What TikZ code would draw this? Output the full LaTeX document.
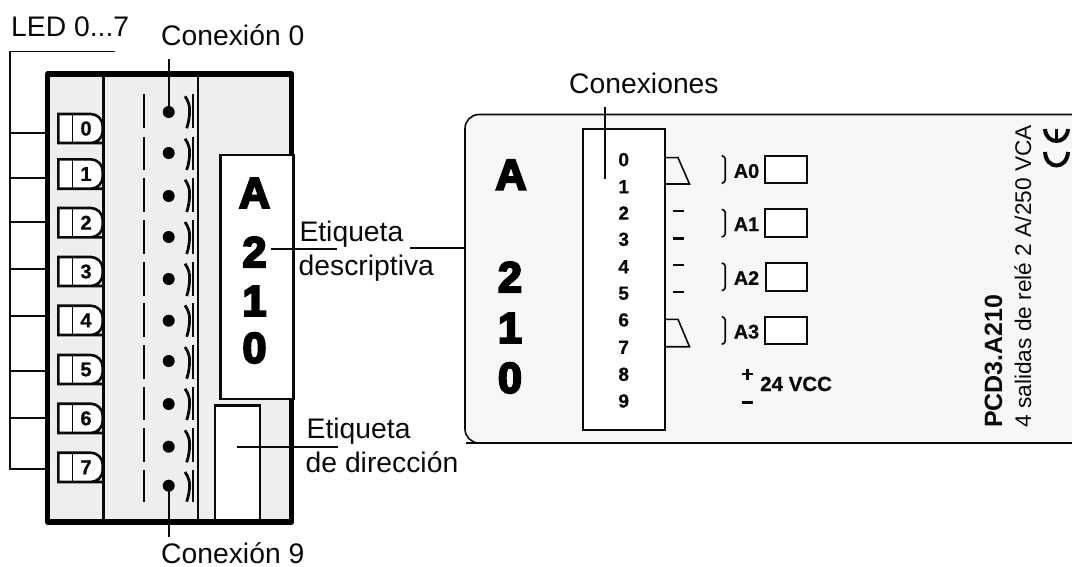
\documentclass[tikz,border=0pt]{standalone}
\usepackage{fontspec}
\setmainfont{Liberation Sans}
\newfontfamily\heavyfont[BoldFeatures={FakeBold=5}]{Liberation Sans}
\newfontfamily\boldishfont[BoldFeatures={FakeBold=0.8}]{Liberation Sans}
\definecolor{framegray}{HTML}{EEEEEE}
\definecolor{cardgray}{HTML}{F7F7F7}
\definecolor{ink}{HTML}{0A0A0A}
\tikzset{
  lbl/.style={anchor=base west,inner sep=0pt,text=ink,font=\fontsize{28.3}{28}\selectfont},
  ledtxt/.style={anchor=center,inner sep=0pt,text=ink,font=\fontsize{20}{20}\selectfont\boldishfont\bfseries},
  pintxt/.style={anchor=center,inner sep=0pt,text=ink,font=\fontsize{19}{19}\selectfont\boldishfont\bfseries},
  anatxt/.style={anchor=center,inner sep=0pt,text=ink,font=\fontsize{19.8}{20}\selectfont\boldishfont\bfseries},
  heavy/.style={anchor=center,inner sep=0pt,text=black,font=\fontsize{43}{43}\selectfont\heavyfont\bfseries},
  thinl/.style={draw=ink,line width=1.6pt},
  midl/.style={draw=ink,line width=2.6pt},
  outbox/.style={draw=ink,line width=2pt,fill=white}
}
\begin{document}
\begin{tikzpicture}[x=1pt,y=-1pt]
\useasboundingbox (0,0) rectangle (1072,566);
% ---------- module frame
\fill[framegray] (47.5,74) rectangle (291.7,522);
\draw[midl] (103.5,74) -- (103.5,522);
\draw[midl] (197.8,74) -- (197.8,522);
% LEDs
\foreach \t/\b/\n in {114/143/0,159.3/188.7/1,208/237.3/2,257/286/3,305.7/335/4,355/384/5,403.7/433/6,452.7/482/7}{
  \draw[midl,fill=white] (58.3,\t) -- (90,\t) [rounded corners=12pt] -- (102.7,\t) -- (102.7,\b) -- (90,\b) [sharp corners] -- (58.3,\b) -- cycle;
  \draw[thinl] (72.3,\t) -- (72.3,\b);
  \node[ledtxt] (led\n) at (86,{(\t+\b)/2}) {\n};
}
% contacts
\foreach \t/\b/\c/\n in {94.3/128.3/112/0,136.7/170/153/1,177.7/212/196/2,220/254/237/3,261.7/296/279/4,303.3/336.7/320.7/5,345/378.7/361/6,386.7/420/404/7,428.3/462.3/446.7/8,470/501.7/485.7/9}{
  \draw[midl] (144,\t) -- (144,\b);
  \fill[black] (168.7,\c) circle (6);
  \draw[line width=2.2pt,draw=ink] (193.3,\t) -- (193.3,\b);
  \draw[line width=2.8pt,draw=ink] (185,{\t+2}) .. controls (188.5,{\t+7}) and (190,{\t+12}) .. (189.5,{(\t+\b)/2}) .. controls (189.5,{\b-12}) and (189,{\b-7}) .. (186.7,\b);
}
\coordinate (dot0) at (168.7,112);
\coordinate (dot9) at (168.7,485.7);
% address label
\draw[midl,fill=white] (215,405.3) rectangle (260,522);
% frame
\draw[draw=black,line width=5.2pt,line join=round] (47.5,74) rectangle (291.7,522);
% description label
\draw[midl,fill=white] (220.5,155) rectangle (293.7,399);
\node[heavy] (la) at (254.5,193) {A};
\node[heavy] (l2) at (254.5,252) {2};
\node[heavy] (l1) at (254.5,301) {1};
\node[heavy] (l0) at (254.5,348) {0};
% LED bus
\coordinate (busT) at (115,51.5);
\coordinate (busC) at (10,51.5);
\coordinate (busB) at (10,469);
\coordinate (busE) at (50,469);
\draw[thinl] (busT) -- (busC) -- (busB) -- (busE);
\foreach \y in {133,178,222,269,315.7,370.7,417.7}{
  \draw[thinl] (10,\y) -- (50,\y);
}
\node[lbl] (ledlabel) at (11,36) {LED 0...7};
\node[lbl] (con0) at (161,45) {Conexión 0};
\node[lbl] (con9) at (161,563.5) {Conexión 9};
\coordinate (con0e) at (168.7,59);
\coordinate (con9e) at (168.7,536.7);
\draw[thinl] (con0e) -- (dot0);
\draw[thinl] (dot9) -- (con9e);
% labels middle
\node[lbl] (et1a) at (299.3,241) {Etiqueta};
\node[lbl] (et1b) at (298.5,275) {descriptiva};
\node[lbl] (et2a) at (306.5,438.3) {Etiqueta};
\node[lbl] (et2b) at (305.5,472.7) {de dirección};
\coordinate (d1a) at (271,249);
\coordinate (d1b) at (337,249);
\coordinate (d2a) at (410,248);
\coordinate (d2b) at (465,248);
\coordinate (d3a) at (237,446.7);
\coordinate (d3b) at (338,446.7);
\draw[thinl] (d1a) -- (d1b);
\draw[thinl] (d2a) -- (d2b);
\draw[thinl] (d3a) -- (d3b);
% ---------- card
\fill[cardgray] (1072,114.5) -- (480,114.5) [rounded corners=14pt] -- (465,114.5) -- (465,443) -- (480,443) [sharp corners] -- (1072,443) -- cycle;
\draw[thinl] (1072,114.5) -- (480,114.5) [rounded corners=14pt] -- (465,114.5) -- (465,443) -- (480,443) [sharp corners] -- (1072,443);
\draw[draw=ink,line width=2pt,fill=white] (582.7,129.3) rectangle (665.3,430);
\foreach \y/\n in {159.7/0,186.7/1,213/2,239.3/3,266.7/4,293.3/5,320/6,347.3/7,374.3/8,401/9}{
  \node[pintxt] (pin\n) at (623.7,\y) {\n};
}
\node[lbl] (conx) at (569,93.3) {Conexiones};
\coordinate (conxa) at (604.7,106.7);
\coordinate (conxb) at (604.7,179.3);
\draw[thinl] (conxa) -- (conxb);
% relay contacts
\draw[thinl,line join=miter] (665.3,157.6) -- (678,157.6) -- (689.5,184) -- (665.3,184);
\draw[thinl,line join=miter] (665.3,319.3) -- (678,319.3) -- (689.5,346.7) -- (665.3,346.7);
\foreach \y in {211,238.3,265,292}{
  \draw[midl] (672.7,\y) -- (684,\y);
}
% outputs
\foreach \t/\b/\m/\n/\o in {155.7/183.3/171/0/0,209.3/237/224.3/1/0,263/290.7/278/2/0.6,316.7/344.3/331.7/3/0}{
  \draw[thinl] (721.7,\t) -- (724,{\t+1}) -- (725.2,{\t+3}) -- (725.2,{\b-3}) -- (724,{\b-1}) -- (721.7,\b);
  \node[anatxt] (an\n) at (746.5,\m) {A\n};
  \draw[outbox] ({765.3+\o},\t) rectangle ({806.7+\o},\b);
}
\draw[midl] (742,374) -- (752.8,374);
\draw[midl] (747.4,368.5) -- (747.4,379.5);
\draw[midl] (741.7,402.3) -- (752.7,402.3);
\node[anchor=base west,inner sep=0pt,text=ink,font=\fontsize{20.5}{20}\selectfont\boldishfont\bfseries] (vcc) at (760,391) {24 VCC};
% big card letters
\node[heavy] (ca) at (511,174.7) {A};
\node[heavy] (c2) at (510,277) {2};
\node[heavy] (c1) at (510,328) {1};
\node[heavy] (c0) at (510,378) {0};
% side text
\node[anchor=base west,inner sep=0pt,rotate=90,text=ink,font=\fontsize{25}{25}\selectfont\bfseries] (pcd) at (1002,428) {PCD3.A210};
\node[anchor=base west,inner sep=0pt,rotate=90,text=ink,font=\fontsize{22.7}{23}\selectfont] (sal) at (1031,428) {4 salidas de relé 2 A/250 VCA};
% CE mark
\draw[line width=4pt,draw=ink] (1045,129) .. controls (1046,145) and (1067,145) .. (1068,129);
\draw[line width=3pt,draw=ink] (1056.5,129) -- (1056.5,143);
\draw[line width=4pt,draw=ink] (1045,152) .. controls (1046,170) and (1067,170) .. (1068,152);
\end{tikzpicture}
\end{document}
